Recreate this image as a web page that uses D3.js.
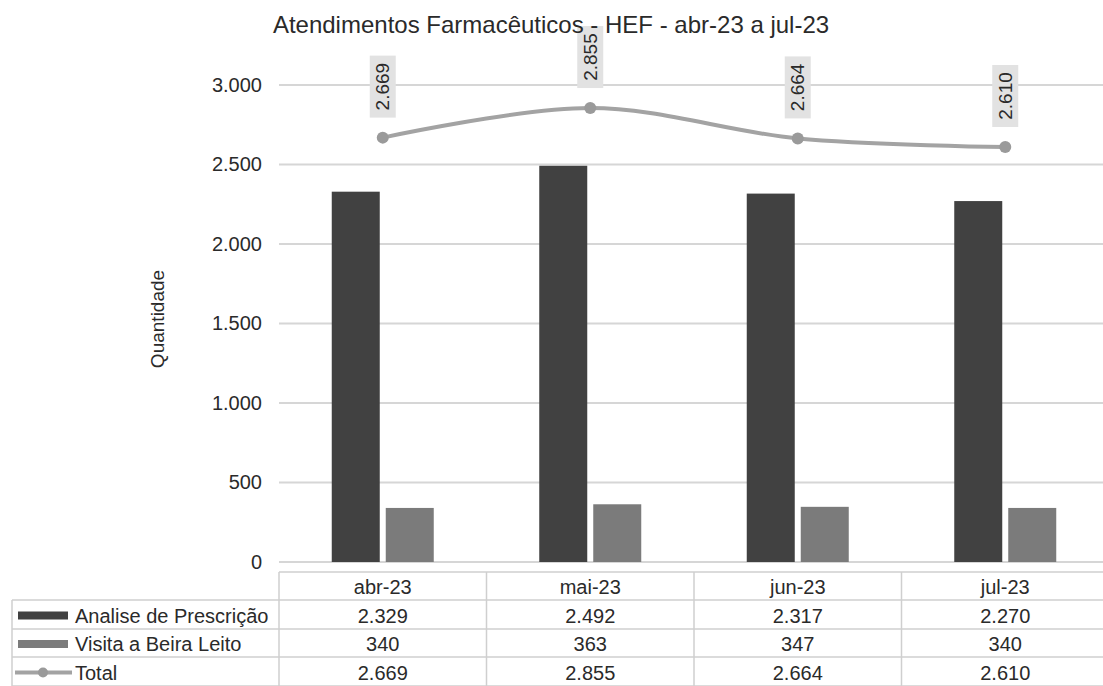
<!DOCTYPE html>
<html>
<head>
<meta charset="utf-8">
<script src="https://cdn.jsdelivr.net/npm/d3@7"></script>
<style>
  body { margin: 0; background: #fff; }
  svg { font-family: "Liberation Sans", Arial, sans-serif; }
</style>
</head>
<body>
<div id="chart"></div>
<script>
// chart data
var months = ["abr-23", "mai-23", "jun-23", "jul-23"];
var analise = [2329, 2492, 2317, 2270];
var visita = [340, 363, 347, 340];
var total = [2669, 2855, 2664, 2610];
var yTicks = [0, 500, 1000, 1500, 2000, 2500, 3000];
var seriesNames = ["Analise de Prescrição", "Visita a Beira Leito", "Total"];

// number formatter (pt-BR style, dot as thousands)
var ptBR = d3.formatLocale({ decimal: ",", thousands: ".", grouping: [3], currency: ["R$", ""] });
var f = ptBR.format(",");

var W = 1103, H = 686;
var margin = { top: 85, left: 279, right: -6, bottom: 124 };
var plotW = W - margin.left - margin.right;
var plotH = H - margin.top - margin.bottom;

var colDark = "#414141", colLight = "#7b7b7b", colLine = "#a3a3a3", colGrid = "#d6d6d6", colText = "#2a2a2a";

var svg = d3.select("#chart").append("svg")
    .attr("width", W)
    .attr("height", H);

var g = svg.append("g")
    .attr("transform", "translate(" + margin.left + "," + margin.top + ")");

// scales
var x = d3.scaleBand().domain(months).range([0, plotW]);
var y = d3.scaleLinear().domain([0, 3000]).range([plotH, 0]);
var barW = 48, barGap = 6;

// title
svg.append("text")
    .attr("x", 551)
    .attr("y", 33)
    .style("text-anchor", "middle")
    .style("font-size", "24px")
    .style("fill", colText)
    .text("Atendimentos Farmacêuticos - HEF - abr-23 a jul-23");

// y axis title
svg.append("text")
    .attr("transform", "translate(157,319) rotate(-90)")
    .style("text-anchor", "middle")
    .style("dominant-baseline", "central")
    .style("font-size", "19px")
    .style("fill", colText)
    .text("Quantidade");

// gridlines
g.selectAll(".grid")
    .data(yTicks)
    .enter()
    .append("line")
    .attr("class", "grid")
    .attr("x1", 0)
    .attr("x2", plotW)
    .attr("y1", function(d) { return y(d); })
    .attr("y2", function(d) { return y(d); })
    .attr("stroke", colGrid)
    .attr("stroke-width", 2);

// y axis labels
var yAxis = d3.axisLeft(y)
    .tickValues(yTicks)
    .tickSize(0)
    .tickPadding(17)
    .tickFormat(f);
g.append("g")
    .call(yAxis)
    .call(function(a) { a.select(".domain").remove(); })
    .selectAll("text")
    .style("font-size", "20px")
    .style("font-family", "'Liberation Sans', Arial, sans-serif")
    .style("fill", colText);

// bars
var bandCenter = function(m) { return x(m) + x.bandwidth() / 2; };
g.selectAll(".bar-a")
    .data(analise)
    .enter()
    .append("rect")
    .attr("class", "bar-a")
    .attr("x", function(d, i) { return bandCenter(months[i]) - barGap / 2 - barW; })
    .attr("y", function(d) { return y(d); })
    .attr("width", barW)
    .attr("height", function(d) { return y(0) - y(d); })
    .attr("fill", colDark);

g.selectAll(".bar-v")
    .data(visita)
    .enter()
    .append("rect")
    .attr("class", "bar-v")
    .attr("x", function(d, i) { return bandCenter(months[i]) + barGap / 2; })
    .attr("y", function(d) { return y(d); })
    .attr("width", barW)
    .attr("height", function(d) { return y(0) - y(d); })
    .attr("fill", colLight);

// total line
var line = d3.line()
    .x(function(d, i) { return bandCenter(months[i]); })
    .y(function(d) { return y(d); })
    .curve(d3.curveCardinal.tension(0));
g.append("path")
    .datum(total)
    .attr("d", line)
    .attr("fill", "none")
    .attr("stroke", colLine)
    .attr("stroke-width", 4);

g.selectAll(".dot")
    .data(total)
    .enter()
    .append("circle")
    .attr("class", "dot")
    .attr("cx", function(d, i) { return bandCenter(months[i]); })
    .attr("cy", function(d) { return y(d); })
    .attr("r", 6)
    .attr("fill", "#9a9a9a");

// data labels (rotated, grey box)
var lblW = 26, lblH = 62, lblGap = 20;
var labels = g.selectAll(".lbl")
    .data(total)
    .enter()
    .append("g")
    .attr("class", "lbl")
    .attr("transform", function(d, i) {
        return "translate(" + bandCenter(months[i]) + "," + (y(d) - lblGap) + ")";
    });
labels.append("rect")
    .attr("x", -lblW / 2)
    .attr("y", -lblH)
    .attr("width", lblW)
    .attr("height", lblH)
    .attr("fill", "#e2e2e2");
labels.append("text")
    .attr("transform", "translate(0," + (-lblH / 2) + ") rotate(-90)")
    .style("text-anchor", "middle")
    .style("dominant-baseline", "central")
    .style("font-size", "19px")
    .style("fill", colText)
    .text(function(d) { return f(d); });

// data table
var tableTop = 572;
var rowY = [572, 600, 629, 657, 686];
var legendLeft = 12;
var tbl = svg.append("g");
var colEdges = months.map(function(m) { return margin.left + x(m); }).concat([margin.left + plotW]);

// horizontal lines
tbl.append("line")
    .attr("x1", margin.left).attr("x2", W)
    .attr("y1", rowY[0]).attr("y2", rowY[0]);
tbl.selectAll(".hrow")
    .data(rowY.slice(1))
    .enter()
    .append("line")
    .attr("class", "hrow")
    .attr("x1", legendLeft).attr("x2", W)
    .attr("y1", function(d) { return d; })
    .attr("y2", function(d) { return d; });
// vertical lines
tbl.selectAll(".vcol")
    .data(colEdges.slice(0, 4))
    .enter()
    .append("line")
    .attr("class", "vcol")
    .attr("x1", function(d) { return d; }).attr("x2", function(d) { return d; })
    .attr("y1", rowY[0]).attr("y2", H);
tbl.append("line")
    .attr("x1", legendLeft).attr("x2", legendLeft)
    .attr("y1", rowY[1]).attr("y2", H);
tbl.selectAll("line")
    .attr("stroke", "#cfcfcf")
    .attr("stroke-width", 1.5);

// header
tbl.selectAll(".hdr")
    .data(months)
    .enter()
    .append("text")
    .attr("class", "hdr")
    .attr("x", function(m) { return margin.left + bandCenter(m); })
    .attr("y", (rowY[0] + rowY[1]) / 2 + 1)
    .style("text-anchor", "middle")
    .style("dominant-baseline", "central")
    .style("font-size", "20px")
    .style("fill", colText)
    .text(function(m) { return m; });

// rows
var rows = [analise, visita, total];
rows.forEach(function(vals, r) {
    var cy = (rowY[r + 1] + rowY[r + 2]) / 2 + 1;
    tbl.selectAll(".cell" + r)
        .data(vals)
        .enter()
        .append("text")
        .attr("x", function(d, i) { return margin.left + bandCenter(months[i]); })
        .attr("y", cy)
        .style("text-anchor", "middle")
        .style("dominant-baseline", "central")
        .style("font-size", "20px")
        .style("fill", colText)
        .text(function(d) { return f(d); });

    tbl.append("text")
        .attr("x", 75)
        .attr("y", cy)
        .style("dominant-baseline", "central")
        .style("font-size", "20px")
        .style("fill", colText)
        .text(seriesNames[r]);

    if (r < 2) {
        tbl.append("rect")
            .attr("x", 18)
            .attr("y", cy - 4)
            .attr("width", 50)
            .attr("height", 8)
            .attr("fill", r === 0 ? colDark : colLight);
    } else {
        tbl.append("line")
            .attr("x1", 15).attr("x2", 72)
            .attr("y1", cy).attr("y2", cy)
            .attr("stroke", colLine)
            .attr("stroke-width", 4);
        tbl.append("circle")
            .attr("cx", 43)
            .attr("cy", cy)
            .attr("r", 5)
            .attr("fill", "#9a9a9a");
    }
});
</script>
</body>
</html>
